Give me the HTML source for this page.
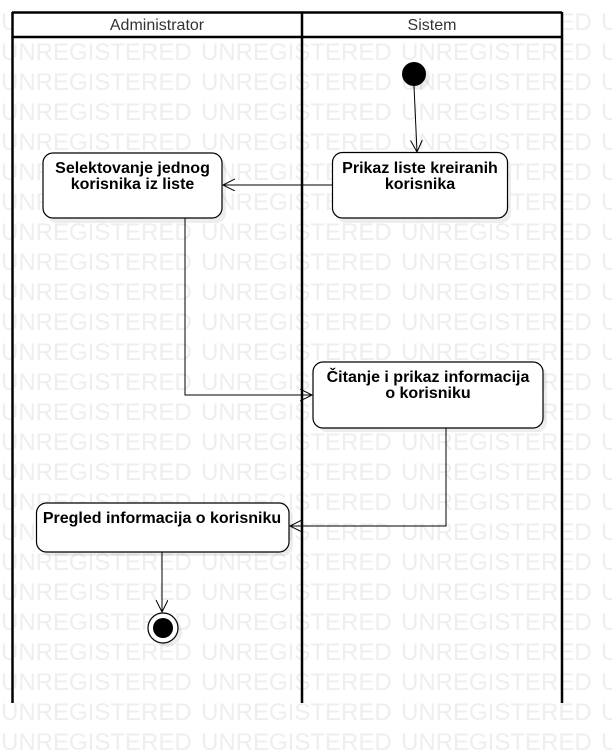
<!DOCTYPE html>
<html><head><meta charset="utf-8"><style>
html,body{margin:0;padding:0;background:#fff;}
svg{display:block;}
</style></head><body>
<svg width="612" height="752" viewBox="0 0 612 752" xmlns="http://www.w3.org/2000/svg">
<defs>
<marker id="a" markerWidth="14" markerHeight="14" refX="12" refY="6" orient="auto" markerUnits="userSpaceOnUse">
<path d="M0,0 L12,6 L0,12" fill="none" stroke="#000" stroke-width="1"/>
</marker>
</defs>
<g font-family="Liberation Sans, sans-serif" font-size="24" fill="#eeeeee">
<text x="1" y="30">UNREGISTERED</text><text x="201" y="30">UNREGISTERED</text><text x="401" y="30">UNREGISTERED</text><text x="601" y="30">UNREGISTERED</text>
<text x="1" y="60">UNREGISTERED</text><text x="201" y="60">UNREGISTERED</text><text x="401" y="60">UNREGISTERED</text><text x="601" y="60">UNREGISTERED</text>
<text x="1" y="90">UNREGISTERED</text><text x="201" y="90">UNREGISTERED</text><text x="401" y="90">UNREGISTERED</text><text x="601" y="90">UNREGISTERED</text>
<text x="1" y="120">UNREGISTERED</text><text x="201" y="120">UNREGISTERED</text><text x="401" y="120">UNREGISTERED</text><text x="601" y="120">UNREGISTERED</text>
<text x="1" y="150">UNREGISTERED</text><text x="201" y="150">UNREGISTERED</text><text x="401" y="150">UNREGISTERED</text><text x="601" y="150">UNREGISTERED</text>
<text x="1" y="180">UNREGISTERED</text><text x="201" y="180">UNREGISTERED</text><text x="401" y="180">UNREGISTERED</text><text x="601" y="180">UNREGISTERED</text>
<text x="1" y="210">UNREGISTERED</text><text x="201" y="210">UNREGISTERED</text><text x="401" y="210">UNREGISTERED</text><text x="601" y="210">UNREGISTERED</text>
<text x="1" y="240">UNREGISTERED</text><text x="201" y="240">UNREGISTERED</text><text x="401" y="240">UNREGISTERED</text><text x="601" y="240">UNREGISTERED</text>
<text x="1" y="270">UNREGISTERED</text><text x="201" y="270">UNREGISTERED</text><text x="401" y="270">UNREGISTERED</text><text x="601" y="270">UNREGISTERED</text>
<text x="1" y="300">UNREGISTERED</text><text x="201" y="300">UNREGISTERED</text><text x="401" y="300">UNREGISTERED</text><text x="601" y="300">UNREGISTERED</text>
<text x="1" y="330">UNREGISTERED</text><text x="201" y="330">UNREGISTERED</text><text x="401" y="330">UNREGISTERED</text><text x="601" y="330">UNREGISTERED</text>
<text x="1" y="360">UNREGISTERED</text><text x="201" y="360">UNREGISTERED</text><text x="401" y="360">UNREGISTERED</text><text x="601" y="360">UNREGISTERED</text>
<text x="1" y="390">UNREGISTERED</text><text x="201" y="390">UNREGISTERED</text><text x="401" y="390">UNREGISTERED</text><text x="601" y="390">UNREGISTERED</text>
<text x="1" y="420">UNREGISTERED</text><text x="201" y="420">UNREGISTERED</text><text x="401" y="420">UNREGISTERED</text><text x="601" y="420">UNREGISTERED</text>
<text x="1" y="450">UNREGISTERED</text><text x="201" y="450">UNREGISTERED</text><text x="401" y="450">UNREGISTERED</text><text x="601" y="450">UNREGISTERED</text>
<text x="1" y="480">UNREGISTERED</text><text x="201" y="480">UNREGISTERED</text><text x="401" y="480">UNREGISTERED</text><text x="601" y="480">UNREGISTERED</text>
<text x="1" y="510">UNREGISTERED</text><text x="201" y="510">UNREGISTERED</text><text x="401" y="510">UNREGISTERED</text><text x="601" y="510">UNREGISTERED</text>
<text x="1" y="540">UNREGISTERED</text><text x="201" y="540">UNREGISTERED</text><text x="401" y="540">UNREGISTERED</text><text x="601" y="540">UNREGISTERED</text>
<text x="1" y="570">UNREGISTERED</text><text x="201" y="570">UNREGISTERED</text><text x="401" y="570">UNREGISTERED</text><text x="601" y="570">UNREGISTERED</text>
<text x="1" y="600">UNREGISTERED</text><text x="201" y="600">UNREGISTERED</text><text x="401" y="600">UNREGISTERED</text><text x="601" y="600">UNREGISTERED</text>
<text x="1" y="630">UNREGISTERED</text><text x="201" y="630">UNREGISTERED</text><text x="401" y="630">UNREGISTERED</text><text x="601" y="630">UNREGISTERED</text>
<text x="1" y="660">UNREGISTERED</text><text x="201" y="660">UNREGISTERED</text><text x="401" y="660">UNREGISTERED</text><text x="601" y="660">UNREGISTERED</text>
<text x="1" y="690">UNREGISTERED</text><text x="201" y="690">UNREGISTERED</text><text x="401" y="690">UNREGISTERED</text><text x="601" y="690">UNREGISTERED</text>
<text x="1" y="720">UNREGISTERED</text><text x="201" y="720">UNREGISTERED</text><text x="401" y="720">UNREGISTERED</text><text x="601" y="720">UNREGISTERED</text>
<text x="1" y="750">UNREGISTERED</text><text x="201" y="750">UNREGISTERED</text><text x="401" y="750">UNREGISTERED</text><text x="601" y="750">UNREGISTERED</text>
</g>
<rect x="12" y="12" width="550" height="25" fill="#fff"/>
<g stroke="#000" stroke-width="2.5" fill="none">
<line x1="12" y1="12.5" x2="562" y2="12.5"/>
<line x1="12" y1="37" x2="562" y2="37"/>
<line x1="12.5" y1="12" x2="12.5" y2="703"/>
<line x1="302" y1="12" x2="302" y2="703"/>
<line x1="562" y1="12" x2="562" y2="703"/>
</g>
<g font-family="Liberation Sans, sans-serif" font-size="16" fill="#333" text-anchor="middle">
<text x="157" y="30">Administrator</text>
<text x="432" y="30">Sistem</text>
</g>
<g fill="#000" opacity="0.07">
<rect x="47" y="157" width="179" height="66" rx="10"/>
<rect x="336" y="157" width="175" height="66" rx="10"/>
<rect x="317" y="366" width="230" height="66" rx="10"/>
<rect x="40" y="507" width="253" height="49" rx="10"/>
<circle cx="418" cy="78" r="12"/>
<circle cx="167" cy="632" r="15"/>
</g>
<g stroke="#000" stroke-width="1.2" fill="#fff">
<rect x="43" y="153" width="179" height="65" rx="10"/>
<rect x="332.5" y="152.5" width="175" height="65.5" rx="10"/>
<rect x="313" y="362" width="230" height="66" rx="10"/>
<rect x="36.5" y="503" width="252.5" height="49" rx="10"/>
<circle cx="163" cy="628" r="15"/>
</g>
<circle cx="414" cy="74" r="12" fill="#000"/>
<circle cx="163" cy="628" r="10" fill="#000"/>
<g font-family="Liberation Sans, sans-serif" font-size="16" font-weight="bold" fill="#000" text-anchor="middle">
<text x="132.5" y="173">Selektovanje jednog</text>
<text x="132.5" y="189">korisnika iz liste</text>
<text x="420" y="173">Prikaz liste kreiranih</text>
<text x="420" y="189">korisnika</text>
<text x="428" y="382">Čitanje i prikaz informacija</text>
<text x="428" y="398">o korisniku</text>
<text x="162" y="523">Pregled informacija o korisniku</text>
</g>
<g stroke="#000" stroke-width="1" fill="none">
<line x1="414" y1="86" x2="417" y2="152" marker-end="url(#a)"/>
<line x1="332" y1="185" x2="223" y2="185" marker-end="url(#a)"/>
<polyline points="185,218 185,395 312,395" marker-end="url(#a)"/>
<polyline points="446,428 446,526 290,526" marker-end="url(#a)"/>
<line x1="162" y1="552" x2="162" y2="612" marker-end="url(#a)"/>
</g>
</svg>
</body></html>
